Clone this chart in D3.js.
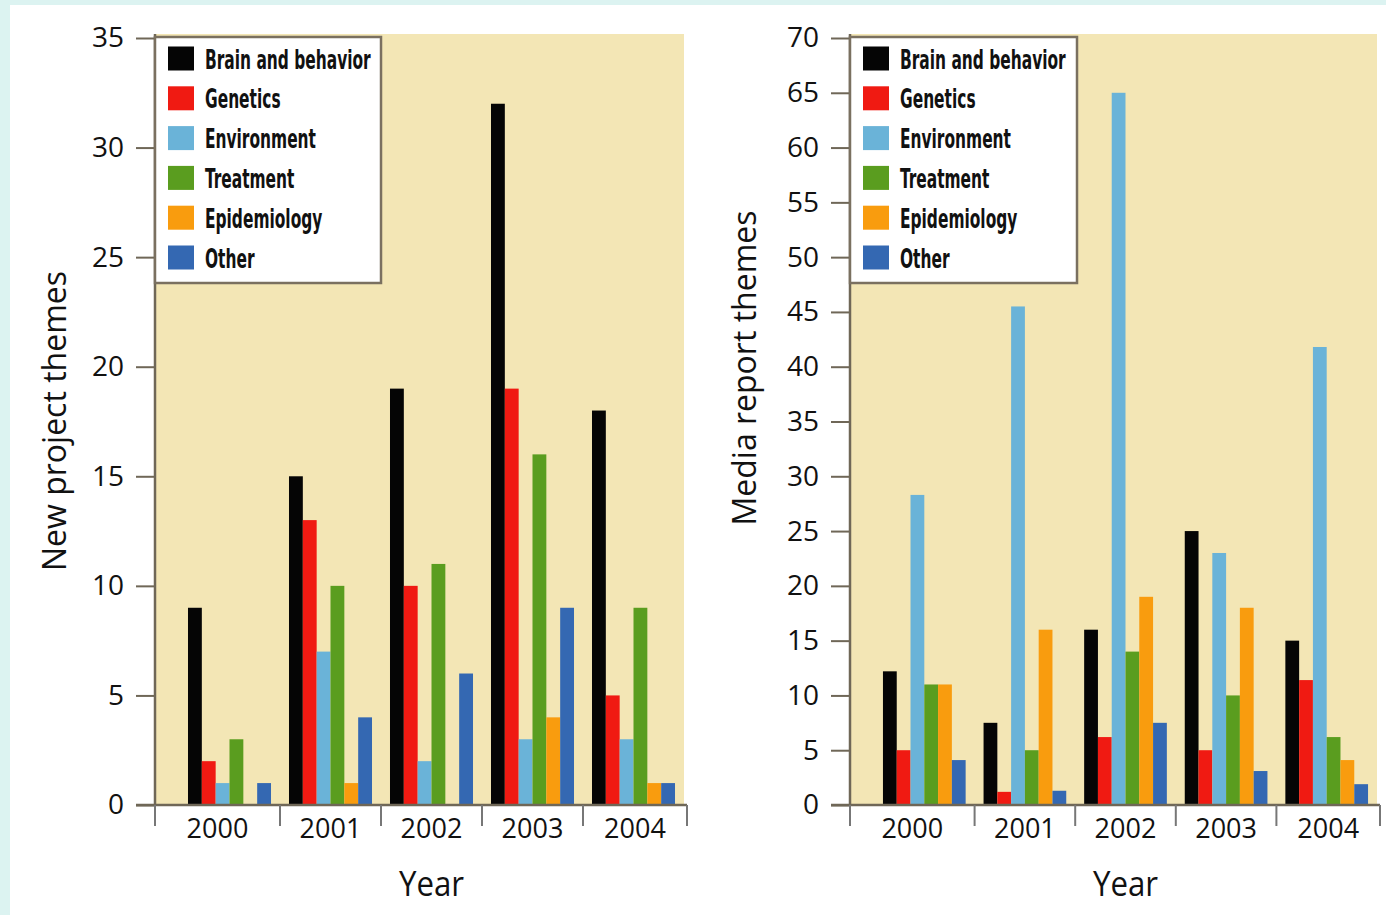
<!DOCTYPE html>
<html><head><meta charset="utf-8">
<script src="https://cdn.jsdelivr.net/npm/d3@7"></script>
<style>
html,body{margin:0;padding:0;background:#dcf3f1;}
svg{display:block;}
text{font-family:"Open Sans","Noto Sans",sans-serif;fill:#111;}
.leg{font-family:"Liberation Sans Narrow","DejaVu Sans Condensed","Open Sans",sans-serif;font-weight:bold;}
</style></head>
<body>
<script>
const years = ["2000","2001","2002","2003","2004"];
const themes = ["Brain and behavior","Genetics","Environment","Treatment","Epidemiology","Other"];
const colors = ["#050505","#f01a12","#6ab3d8","#5a9d1f","#f99c0e","#3468b2"];

// New project themes, per year, in theme order
const projBrain  = [9, 15, 19, 32, 18];
const projGen    = [2, 13, 10, 19, 5];
const projEnv    = [1, 7, 2, 3, 3];
const projTreat  = [3, 10, 11, 16, 9];
const projEpi    = [0, 1, 0, 4, 1];
const projOther  = [1, 4, 6, 9, 1];

// Media report themes
const mediaBrain = [12.2, 7.5, 16, 25, 15];
const mediaGen   = [5, 1.2, 6.2, 5, 11.4];
const mediaEnv   = [28.3, 45.5, 65, 23, 41.8];
const mediaTreat = [11, 5, 14, 10, 6.2];
const mediaEpi   = [11, 16, 19, 18, 4.1];
const mediaOther = [4.1, 1.3, 7.5, 3.1, 1.9];

const leftTicks = [0,5,10,15,20,25,30,35];
const rightTicks = [0,5,10,15,20,25,30,35,40,45,50,55,60,65,70];

const W = 1386, H = 915;
const svg = d3.select("body").append("svg").attr("width", W).attr("height", H);
svg.append("rect").attr("x",10).attr("y",5).attr("width",W-10).attr("height",H-5).attr("fill","#ffffff");

function chart(cfg){
  const {axisX, right, series, ymax, ticks, ylabel, ylabelX, ylabelY, legendRight} = cfg;
  const top = 38, bottom = 805;
  const y = d3.scaleLinear().domain([0, ymax]).range([bottom, top]);
  const x0 = d3.scaleBand().domain(years).range([axisX+24, right]);
  const x1 = d3.scaleBand().domain(themes).range([0, x0.bandwidth()]).paddingOuter(0.65).paddingInner(0);
  const g = svg.append("g");
  g.append("rect").attr("x", axisX).attr("y", 34).attr("width", right - axisX).attr("height", bottom - 34).attr("fill", "#f3e6b5");
  years.forEach((yr, i) => {
    themes.forEach((t, j) => {
      const v = series[j][i];
      if (v <= 0) return;
      g.append("rect")
        .attr("x", x0(yr) + x1(t))
        .attr("y", y(v))
        .attr("width", x1.bandwidth())
        .attr("height", y(0) - y(v))
        .attr("fill", colors[j]);
    });
  });
  const ya = d3.axisLeft(y).tickValues(ticks).tickSize(19).tickPadding(12).tickFormat(d3.format("d"));
  const yg = g.append("g").attr("transform", `translate(${axisX},0)`).call(ya);
  yg.select(".domain").remove();
  yg.selectAll(".tick line").attr("stroke", "#6f6757").attr("stroke-width", 2);
  yg.selectAll(".tick text").attr("font-size", 28).attr("fill", "#111").attr("font-family", "Open Sans");
  g.append("line").attr("x1", axisX).attr("x2", axisX).attr("y1", 34).attr("y2", bottom).attr("stroke", "#6f6757").attr("stroke-width", 2.5);
  g.append("line").attr("x1", axisX - 19).attr("x2", right + 3).attr("y1", bottom).attr("y2", bottom).attr("stroke", "#6f6757").attr("stroke-width", 2.5);
  const bounds = [axisX].concat(years.slice(1).map(yr => x0(yr))).concat([right + 3]);
  bounds.forEach(b => {
    g.append("line").attr("x1", b).attr("x2", b).attr("y1", bottom).attr("y2", bottom + 21).attr("stroke", "#777").attr("stroke-width", 2);
  });
  years.forEach((yr, i) => {
    g.append("text").attr("x", (bounds[i] + bounds[i+1]) / 2).attr("y", 838)
      .attr("text-anchor", "middle").attr("font-size", 27).text(yr);
  });
  const r = x0.range();
  g.append("text").attr("transform", `translate(${(r[0] + r[1]) / 2},896) scale(0.92,1)`).attr("text-anchor", "middle")
    .attr("font-size", 34).attr("font-weight", 500).text("Year");
  g.append("text").attr("transform", `translate(${ylabelX},${ylabelY}) rotate(-90)`)
    .attr("text-anchor", "middle").attr("font-size", 32).text(ylabel);
  const lg = g.append("g");
  lg.append("rect").attr("x", axisX).attr("y", 37).attr("width", legendRight - axisX).attr("height", 246)
    .attr("fill", "#ffffff").attr("stroke", "#7a7060").attr("stroke-width", 2.5);
  themes.forEach((t, j) => {
    const cy = 58.5 + j * 39.8;
    lg.append("rect").attr("x", axisX + 13).attr("y", cy - 12).attr("width", 26).attr("height", 24).attr("fill", colors[j]);
    lg.append("text").attr("class", "leg")
      .attr("transform", `translate(${axisX + 50},${cy + 10}) scale(0.66,1)`)
      .attr("font-size", 26).text(t);
  });
}

chart({axisX:155, right:684, series:[projBrain,projGen,projEnv,projTreat,projEpi,projOther], ymax:35, ticks:leftTicks,
  ylabel:"New project themes", ylabelX:66, ylabelY:421, legendRight:381});
chart({axisX:850, right:1377, series:[mediaBrain,mediaGen,mediaEnv,mediaTreat,mediaEpi,mediaOther], ymax:70, ticks:rightTicks,
  ylabel:"Media report themes", ylabelX:756, ylabelY:368, legendRight:1077});
</script>
</body></html>
